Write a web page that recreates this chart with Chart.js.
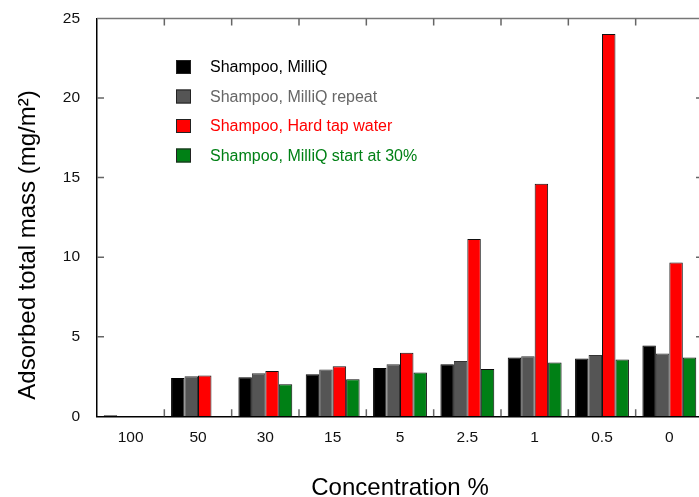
<!DOCTYPE html>
<html>
<head>
<meta charset="utf-8">
<script src="https://cdn.jsdelivr.net/npm/chart.js@4.4.1/dist/chart.umd.min.js"></script>
<style>
  html, body { margin: 0; padding: 0; background: #fff; overflow: hidden; }
  #wrap { width: 704px; height: 497px; }
</style>
</head>
<body>
<div id="wrap"><canvas id="c" width="704" height="497"></canvas></div>
<script>
const categories = ['100', '50', '30', '15', '5', '2.5', '1', '0.5', '0'];
const milliQ       = [0.06, 2.40, 2.46, 2.64, 3.04, 3.27, 3.70, 3.63, 4.45];
const milliQRepeat = [null, 2.52, 2.71, 2.94, 3.27, 3.48, 3.78, 3.86, 3.95];
const hardTap      = [null, 2.56, 2.85, 3.15, 3.99, 11.15, 14.62, 24.02, 9.66];
const startAt30    = [null, null, 2.01, 2.33, 2.75, 2.98, 3.38, 3.57, 3.70];
const yTicks = [0, 5, 10, 15, 20, 25];
const seriesNames = ['Shampoo, MilliQ', 'Shampoo, MilliQ repeat', 'Shampoo, Hard tap water', 'Shampoo, MilliQ start at 30%'];
const xTitle = 'Concentration %';
const yTitle = 'Adsorbed total mass (mg/m²)';

const FONT = '"Liberation Sans", Arial, sans-serif';
const fills = ['#000000', '#555555', '#ff0000', '#008015'];
const edges = ['#000000', '#333333', '#111111', '#0a0a0a'];
const textCols = ['#000000', '#666666', '#ff0000', '#008015'];

const extras = {
  id: 'extras',
  afterDraw(chart) {
    const ctx = chart.ctx;
    const a = chart.chartArea;
    const xs = chart.scales.x, ys = chart.scales.y;
    ctx.save();
    ctx.strokeStyle = '#777777';
    ctx.lineWidth = 1.5;
    ctx.beginPath();
    ctx.moveTo(a.left, a.top); ctx.lineTo(a.right, a.top); ctx.lineTo(a.right, a.bottom);
    ctx.stroke();
    ctx.strokeStyle = '#666666';
    ctx.lineWidth = 1.5;
    ctx.beginPath();
    yTicks.forEach(v => {
      if (v === 0 || v === 25) return;
      const y = ys.getPixelForValue(v);
      ctx.moveTo(a.left, y); ctx.lineTo(a.left + 7, y);
      ctx.moveTo(a.right, y); ctx.lineTo(a.right - 7, y);
    });
    for (let i = 0; i < categories.length - 1; i++) {
      const x = (xs.getPixelForValue(i) + xs.getPixelForValue(i + 1)) / 2;
      ctx.moveTo(x, a.bottom); ctx.lineTo(x, a.bottom - 7);
      ctx.moveTo(x, a.top); ctx.lineTo(x, a.top + 7);
    }
    ctx.stroke();
    ctx.font = '16px ' + FONT;
    ctx.textBaseline = 'middle';
    ctx.textAlign = 'left';
    const rows = [67, 96.5, 126, 155.5];
    chart.data.datasets.forEach((ds, i) => {
      const y = rows[i];
      ctx.fillStyle = ds.backgroundColor;
      ctx.fillRect(176, y - 7, 15, 14);
      ctx.strokeStyle = '#222';
      ctx.lineWidth = 1;
      ctx.strokeRect(176.5, y - 6.5, 14, 13);
      ctx.fillStyle = textCols[i];
      ctx.fillText(ds.label, 210, y + 1);
    });
    ctx.save();
    ctx.translate(28, 245);
    ctx.rotate(-Math.PI / 2);
    ctx.font = '24px ' + FONT;
    ctx.fillStyle = '#000';
    ctx.textAlign = 'center';
    ctx.textBaseline = 'middle';
    ctx.fillText(yTitle, 0, 0);
    ctx.restore();
    ctx.restore();
  }
};

const seriesData = [milliQ, milliQRepeat, hardTap, startAt30];
new Chart(document.getElementById('c'), {
  type: 'bar',
  data: {
    labels: categories,
    datasets: seriesData.map((d, i) => ({
      label: seriesNames[i],
      data: d,
      backgroundColor: fills[i],
      borderColor: edges[i],
      borderWidth: 1,
      categoryPercentage: 0.8,
      barPercentage: 1.0
    }))
  },
  options: {
    responsive: false,
    animation: false,
    layout: { padding: { top: 18.5, left: 0, right: 1, bottom: 0 } },
    plugins: { legend: { display: false }, tooltip: { enabled: false } },
    scales: {
      x: {
        grid: { display: false, drawTicks: false },
        border: { display: true, color: '#000', width: 1.5 },
        ticks: { color: '#111', font: { family: FONT, size: 15.5 }, padding: 12, maxRotation: 0 },
        title: { display: true, text: xTitle, color: '#000', font: { family: FONT, size: 24, lineHeight: 0.75 }, padding: { top: 0, bottom: 0 } },
        afterFit(s) { s.height = 80.7; s.paddingLeft = 0; s.paddingRight = 0; }
      },
      y: {
        min: 0, max: 25,
        grid: { display: false, drawTicks: false },
        border: { display: true, color: '#000', width: 1.5 },
        ticks: { stepSize: 5, color: '#111', font: { family: FONT, size: 15.5 }, padding: 17 },
        afterFit(s) { s.width = 97; s.paddingTop = 0; s.paddingBottom = 0; }
      }
    }
  },
  plugins: [extras]
});
</script>
</body>
</html>
